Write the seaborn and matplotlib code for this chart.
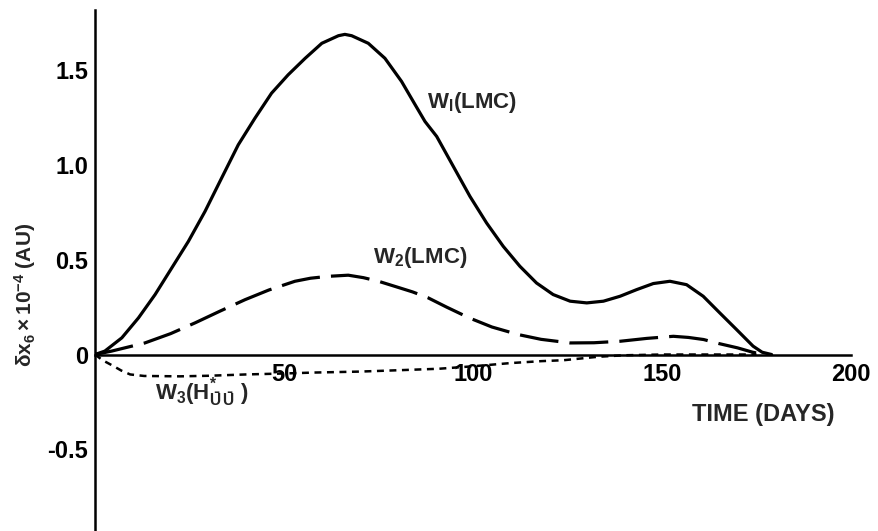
import numpy as np
import pandas as pd
import matplotlib
matplotlib.use("Agg")
import matplotlib.pyplot as plt
import seaborn as sns

sns.set_style("white")
plt.rcParams['font.family'] = ['Liberation Sans', 'DejaVu Sans']
plt.rcParams['mathtext.fontset'] = 'custom'
plt.rcParams['mathtext.rm'] = 'Liberation Sans:bold'
plt.rcParams['mathtext.it'] = 'Liberation Sans:bold'
plt.rcParams['mathtext.bf'] = 'Liberation Sans:bold'
plt.rcParams['lines.scale_dashes'] = False

# W1 (LMC) - solid curve
w1_days = [0, 2.6, 7.1, 11.5, 15.9, 20.3, 24.7, 29.1, 33.5, 37.9, 42.3, 46.7, 51.1, 55.6,
           60, 64.4, 66.1, 67.9, 72.3, 76.7, 81.1, 84.7, 87.3, 90.4, 94.8, 99.2, 103.6,
           108, 112.4, 116.8, 121.2, 125.7, 130.1, 134.5, 138.9, 143.3, 147.7, 152.1,
           156.5, 160.9, 165.3, 169.7, 174.1, 176.5, 179]
w1_vals = [0, 0.018, 0.088, 0.193, 0.316, 0.456, 0.596, 0.754, 0.93, 1.105, 1.245, 1.377,
           1.474, 1.561, 1.64, 1.68, 1.687, 1.68, 1.64, 1.561, 1.439, 1.316, 1.228, 1.149,
           0.991, 0.833, 0.693, 0.570, 0.465, 0.377, 0.316, 0.281, 0.272, 0.281, 0.307,
           0.342, 0.374, 0.386, 0.368, 0.307, 0.219, 0.132, 0.044, 0.012, 0.0]

# W2 (LMC) - long dashes
w2_days = [0, 4.4, 13.2, 20, 26.5, 33, 39.7, 46, 52.9, 57, 61.7, 67, 71, 75, 80, 84, 88,
           93, 99, 105, 112, 118, 125.7, 132, 139, 146, 153, 157, 161, 165, 170, 174, 177]
w2_vals = [0, 0.018, 0.061, 0.11, 0.167, 0.228, 0.289, 0.34, 0.386, 0.402, 0.412, 0.418,
           0.405, 0.386, 0.355, 0.33, 0.30, 0.25, 0.193, 0.145, 0.105, 0.08, 0.061, 0.062,
           0.07, 0.085, 0.096, 0.09, 0.079, 0.058, 0.035, 0.012, 0.0]

# W3 (H*uu) - short dashes
w3_days = [0, 2, 4.8, 7, 9.3, 13, 22.5, 30, 40, 50, 58, 70, 80, 91, 100, 110, 118, 124,
           133, 140, 150, 160, 175]
w3_vals = [0, -0.03, -0.06, -0.085, -0.105, -0.113, -0.115, -0.112, -0.105, -0.1, -0.095,
           -0.09, -0.083, -0.075, -0.062, -0.045, -0.035, -0.03, -0.012, -0.004, 0, 0, 0]

x_ticks = [50, 100, 150, 200]
y_ticks = [-0.5, 0, 0.5, 1.0, 1.5]
y_tick_labels = ["-0.5", "0", "0.5", "1.0", "1.5"]

fig = plt.figure(figsize=(8.79, 5.31), dpi=100)
ax = fig.add_axes([95 / 879, 0.0, (851 - 95) / 879, 0.981])

sns.lineplot(x=w1_days, y=w1_vals, ax=ax, color="black", linewidth=2.3,
             solid_joinstyle="round")
sns.lineplot(x=w2_days, y=w2_vals, ax=ax, color="black", linewidth=2.3)
ax.lines[-1].set_dashes([28, 8])
sns.lineplot(x=w3_days, y=w3_vals, ax=ax, color="black", linewidth=1.8)
ax.lines[-1].set_dashes([5, 4])

ax.set_xlim(0, 200)
ax.set_ylim(-0.93, 1.815)

for s in ["top", "right"]:
    ax.spines[s].set_visible(False)
ax.spines["bottom"].set_position(("data", 0))
ax.spines["left"].set_position(("data", 0))
ax.spines["bottom"].set_linewidth(1.8)
ax.spines["left"].set_linewidth(1.8)
ax.spines["bottom"].set_color("black")
ax.spines["left"].set_color("black")

ax.set_xticks(x_ticks)
ax.set_xticklabels([str(t) for t in x_ticks])
ax.set_yticks(y_ticks)
ax.set_yticklabels(y_tick_labels)
ax.tick_params(axis="x", direction="in", length=7, width=1.3, pad=6,
               labelsize=17, colors="black")
ax.tick_params(axis="y", direction="out", length=4, width=1.3, pad=1,
               labelsize=17, colors="black")
for lab in ax.get_xticklabels() + ax.get_yticklabels():
    lab.set_fontweight("bold")

ax.text(176.7, -0.316, "TIME (DAYS)", ha="center", va="center",
        fontsize=17, fontweight="bold")
fig.text(25 / 879, 1 - 295 / 531, r"$\delta x_6 \times 10^{-4}$ (AU)",
         rotation=90, ha="center", va="center", fontsize=15, fontweight="bold")

ax.text(87.8, 1.33, r"W$_\mathregular{I}$(LMC)", ha="left", va="center",
        fontsize=16, fontweight="bold")
ax.text(73.5, 0.51, r"W$_\mathregular{2}$(LMC)", ha="left", va="center",
        fontsize=16, fontweight="bold")
ax.text(15.9, -0.2, r"W$_\mathregular{3}$(H$^{*}_{\bar{\mathregular{U}}\,\bar{\mathregular{U}}}$ )",
        ha="left", va="center", fontsize=16, fontweight="bold")

fig.savefig("out.png", dpi=100)
